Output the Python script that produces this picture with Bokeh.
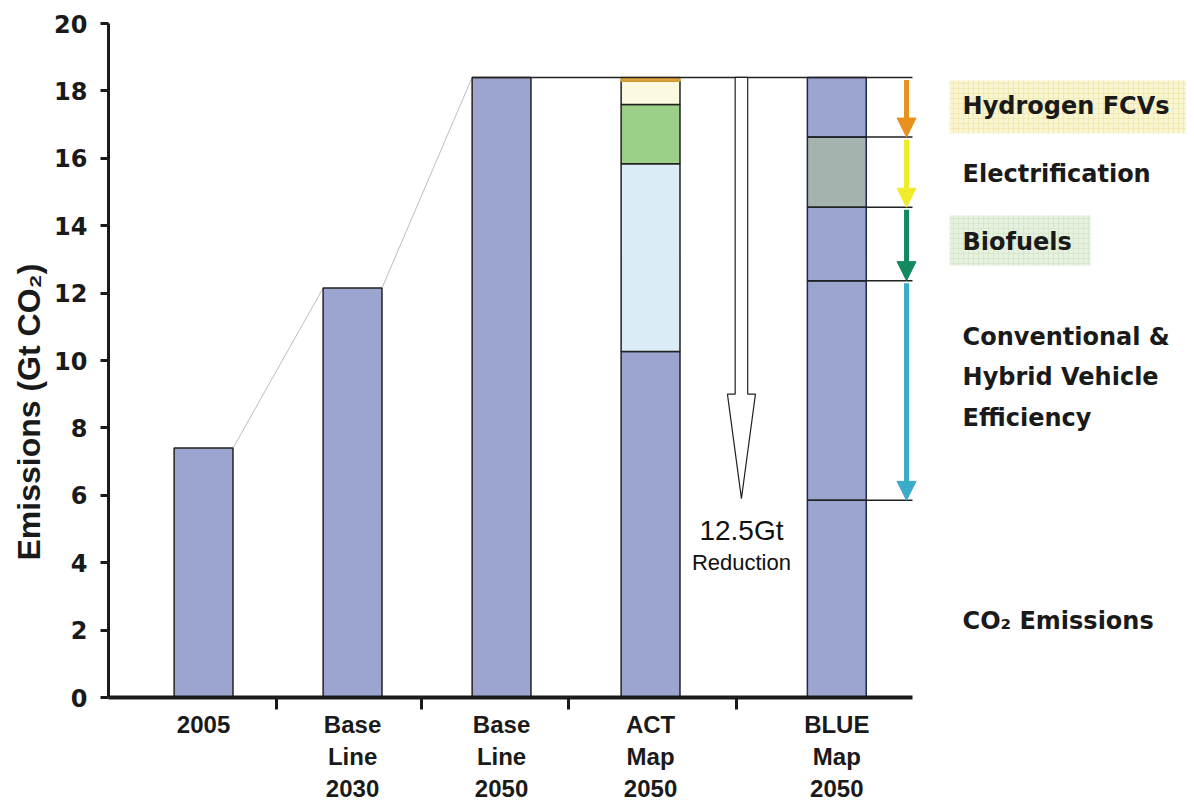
from bokeh.plotting import figure
from bokeh.models import Range1d, FixedTicker, Arrow, NormalHead, Title
from bokeh.core.properties import value
from bokeh.embed import file_html
from bokeh.resources import INLINE

# ---------------- data ----------------
categories = ["2005", "Base\nLine\n2030", "Base\nLine\n2050", "ACT\nMap\n2050", "BLUE\nMap\n2050"]
simple_totals = [7.4, 12.15, 18.4]                 # 2005, Base Line 2030, Base Line 2050
act_levels = [10.27, 15.84, 17.6, 18.29, 18.4]     # cumulative tops, ACT Map 2050
blue_levels = [5.85, 12.37, 14.55, 16.63, 18.4]    # cumulative tops, BLUE Map 2050
reduction = 12.5
reduction_labels = ["12.5Gt", "Reduction"]
wedge_names = ["Hydrogen FCVs", "Electrification", "Biofuels",
               "Conventional &\nHybrid Vehicle\nEfficiency", "CO\u2082 Emissions"]
y_ticks = list(range(0, 21, 2))
y_title = "Emissions (Gt CO\u2082)"

# ---------------- styles / layout ----------------
BAR = "#9ca5cf"
act_colors = [BAR, "#dcecf6", "#9ccf88", "#fbfae1", "#e3a63a"]
act_lines = ["#222222", "#222222", "#222222", "#222222", "#c89a30"]
blue_colors = [BAR, BAR, BAR, "#a5b3ae", BAR]
arrow_colors = ["#e8911e", "#f0ec2c", "#12895f", "#3aabc9"]
x_pos = [0, 1, 2, 3, 4.25]
boundaries = [0.49, 1.46, 2.45, 3.58]
bw = 0.395
x_red = 3.61
x_arr = 4.718
x_line_end = 4.758
x_text = 5.094
label_y = [17.54, 15.52, 13.53, 9.5, 2.28]
X0, X1 = -0.638, 6.597

p = figure(frame_width=1078, frame_height=674,
           x_range=Range1d(X0, X1), y_range=Range1d(0, 20),
           output_backend="svg", toolbar_location=None,
           min_border_left=108, min_border_top=23, min_border_bottom=100, min_border_right=0)
p.outline_line_color = None
p.xgrid.visible = False
p.ygrid.visible = False
p.background_fill_color = "white"

# label background boxes
p.quad(left=[5.007], right=[6.7], top=[18.31], bottom=[16.74],
       fill_color="#f8f5d0", line_color=None,
       hatch_pattern="+", hatch_color="#ebe4a4", hatch_scale=5, hatch_weight=0.6)
p.quad(left=[5.007], right=[5.953], top=[14.30], bottom=[12.82],
       fill_color="#e6f1df", line_color=None,
       hatch_pattern="+", hatch_color="#cfe2c4", hatch_scale=5, hatch_weight=0.6)

# connector lines
p.segment(x0=[x_pos[0] + bw / 2, x_pos[1] + bw / 2], y0=simple_totals[:2],
          x1=[x_pos[1] - bw / 2, x_pos[2] - bw / 2], y1=simple_totals[1:],
          line_color="#bdbdbd", line_width=1)

# simple bars
p.vbar(x=x_pos[:3], bottom=0, top=simple_totals, width=bw,
       fill_color=BAR, line_color="#222222", line_width=1.5)

# ACT stack
p.vbar(x=[x_pos[3]] * len(act_levels), bottom=[0] + act_levels[:-1], top=act_levels,
       width=bw, fill_color=act_colors, line_color=act_lines, line_width=1.5)

# BLUE stack
p.vbar(x=[x_pos[4]] * len(blue_levels), bottom=[0] + blue_levels[:-1], top=blue_levels,
       width=bw, fill_color=blue_colors, line_color="#1f2a4a", line_width=1.5)

# horizontal reference lines
top = simple_totals[2]
p.segment(x0=[x_pos[2] - bw / 2], y0=[top], x1=[x_line_end], y1=[top],
          line_color="#222222", line_width=1.5)
p.segment(x0=[x_pos[4] - bw / 2] * 4, y0=blue_levels[:4],
          x1=[x_line_end] * 4, y1=blue_levels[:4], line_color="#222222", line_width=1.5)

# hollow reduction arrow
tip = top - reduction
shw, hhw, hl = 0.042, 0.094, 3.1
p.patch(x=[x_red - shw, x_red + shw, x_red + shw, x_red + hhw, x_red, x_red - hhw, x_red - shw],
        y=[top, top, tip + hl, tip + hl, tip, tip + hl, tip + hl],
        fill_color="white", line_color="#222222", line_width=1.2)
p.text(x=[x_red], y=[tip - 0.94], text=[reduction_labels[0]],
       text_font=value("Liberation Sans"), text_font_size="28px",
       text_align="center", text_baseline="middle", text_color="#111111")
p.text(x=[x_red], y=[tip - 1.9], text=[reduction_labels[1]],
       text_font=value("Liberation Sans"), text_font_size="22px",
       text_align="center", text_baseline="middle", text_color="#111111")

# colored wedge arrows
levels_desc = blue_levels[::-1]
for i, c in enumerate(arrow_colors):
    p.add_layout(Arrow(end=NormalHead(size=19, fill_color=c, line_color=c),
                       x_start=x_arr, y_start=levels_desc[i] - 0.08,
                       x_end=x_arr, y_end=levels_desc[i + 1],
                       line_color=c, line_width=5))

# wedge labels
p.text(x=[x_text] * len(wedge_names), y=label_y, text=wedge_names,
       text_font=value("DejaVu Sans"), text_font_style="bold", text_font_size="24px",
       text_align="left", text_baseline="middle", text_line_height=1.45,
       text_color="#1a1a1a")

# y axis
ya = p.yaxis[0]
ya.ticker = FixedTicker(ticks=y_ticks)
ya.axis_line_width = 3
ya.axis_line_color = "#1a1a1a"
ya.major_tick_line_width = 3
ya.major_tick_line_color = "#1a1a1a"
ya.major_tick_out = 8
ya.major_tick_in = 0
ya.minor_tick_line_color = None
ya.major_label_text_font = "DejaVu Sans"
ya.major_label_text_font_style = "bold"
ya.major_label_text_font_size = "24px"
ya.major_label_text_color = "#1a1a1a"
ya.major_label_standoff = 13

# y title as a side title, sitting a little below the frame centre as in the original
p.add_layout(Title(text=y_title, align="left", offset=137, standoff=10,
                   text_font="Liberation Sans", text_font_style="bold",
                   text_font_size="32px", text_color="#1a1a1a"), "left")

# x axis
xa = p.xaxis[0]
xa.ticker = FixedTicker(ticks=x_pos, minor_ticks=boundaries)
xa.bounds = (X0, x_line_end)
xa.axis_line_width = 4
xa.axis_line_color = "#1a1a1a"
xa.major_tick_out = 0
xa.major_tick_in = 0
xa.major_tick_line_color = None
xa.minor_tick_out = 12
xa.minor_tick_in = 0
xa.minor_tick_line_width = 3
xa.minor_tick_line_color = "#1a1a1a"
xa.major_label_overrides = dict(zip(x_pos, categories))
xa.major_label_text_font = "Liberation Sans"
xa.major_label_text_font_style = "bold"
xa.major_label_text_font_size = "24px"
xa.major_label_text_color = "#1a1a1a"
xa.major_label_standoff = 1

open("out.html", "w").write(file_html(p, INLINE))
